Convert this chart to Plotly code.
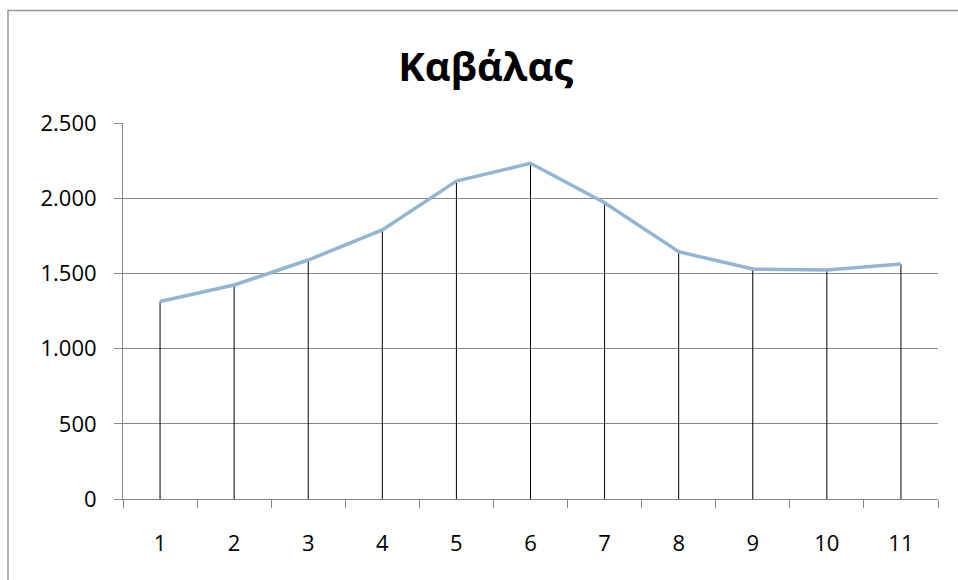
import plotly.graph_objects as go

# Series values per period
categories = ["1", "2", "3", "4", "5", "6", "7", "8", "9", "10", "11"]
values = [1313, 1423, 1589, 1789, 2114, 2232, 1970, 1644, 1529, 1523, 1562]
y_ticks = [0, 500, 1000, 1500, 2000, 2500]

# Vertical drop lines from each point down to zero
drop_x, drop_y = [], []
for c, v in zip(categories, values):
    drop_x += [c, c, None]
    drop_y += [0, v, None]

fig = go.Figure()
fig.add_trace(go.Scatter(
    x=drop_x, y=drop_y, mode="lines",
    line=dict(color="black", width=1),
    hoverinfo="skip", showlegend=False,
))
fig.add_trace(go.Scatter(
    x=categories, y=values, mode="lines",
    line=dict(color="#93B5D5", width=3.5),
    showlegend=False,
))

font_family = "Open Sans, DejaVu Sans, sans-serif"

fig.update_layout(
    width=958, height=580,
    margin=dict(l=123, r=20, t=123, b=81),
    paper_bgcolor="white", plot_bgcolor="white",
    separators=",.",
    font=dict(family=font_family, size=22, color="black"),
    title=dict(
        text="<b>Καβάλας</b>",
        x=0.507, xanchor="center", y=0.885, yanchor="middle",
        font=dict(family=font_family, size=40, color="black"),
    ),
    xaxis=dict(
        type="category",
        categoryorder="array", categoryarray=categories,
        range=[-0.5, len(categories) - 0.5],
        tickson="boundaries",
        ticks="outside", ticklen=8, tickcolor="#868686",
        showline=True, linecolor="#868686", linewidth=1,
        showgrid=False, zeroline=False,
        tickfont=dict(size=22),
        ticklabelstandoff=25,
    ),
    yaxis=dict(
        range=[0, 2500],
        tickvals=y_ticks, tickformat=",",
        ticks="outside", ticklen=8, tickcolor="#868686",
        showline=True, linecolor="#868686", linewidth=1,
        showgrid=True, gridcolor="#868686", gridwidth=1,
        zeroline=False,
        tickfont=dict(size=22),
        ticklabelstandoff=13,
    ),
    shapes=[dict(
        type="rect", xref="paper", yref="paper",
        x0=-115 / 815, x1=1.1, y0=-0.3, y1=(499 - 10.5) / 376,
        line=dict(color="#999999", width=1.5), layer="below",
    )],
)

fig.write_html("out.html")
